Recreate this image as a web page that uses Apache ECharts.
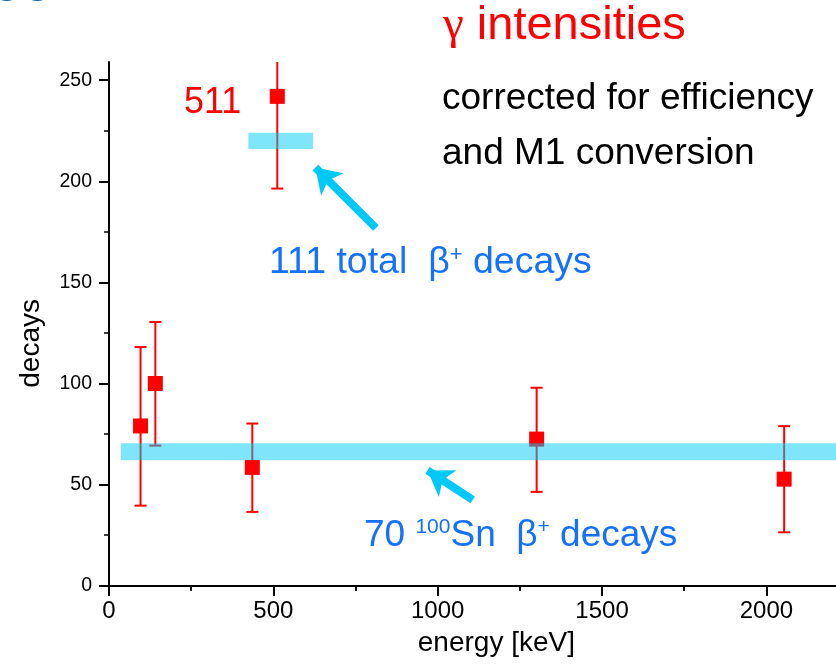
<!DOCTYPE html>
<html>
<head>
<meta charset="utf-8">
<script src="https://cdn.jsdelivr.net/npm/echarts@6/dist/echarts.min.js"></script>
<style>html,body{margin:0;padding:0;background:#fff;}#c{width:836px;height:665px;}</style>
</head>
<body>
<div id="c"></div>
<script>
// ---- data ----
const energy  = [96, 141, 436, 512, 1301, 2054];
const decays  = [79, 100, 58.5, 242, 72.5, 52.7];
const errLow  = [39.6, 69.3, 36.5, 196.4, 46.4, 26.4];
const errHigh = [118, 130.4, 80.2, 287.6, 97.9, 78.9];

const xTicks = [0, 500, 1000, 1500, 2000];
const yTicks = [0, 50, 100, 150, 200, 250];
const yMinorTicks = [25, 75, 125, 175, 225];

// bands (x range, y range)
const bandSnX = [36, 2500];
const bandSnY = [62.1, 70.5];
const bandTotalX = [424, 621];
const bandTotalY = [216, 224];

// arrows: [from, to]
const arrowTotal = [[812, 176.9], [628, 206.8]];
const arrowSn = [[1106.5, 42.4], [969, 57]];

const FONT = '"Liberation Sans", Arial, sans-serif';
const RED = '#ff0000';
const BLUE = '#1470ff';
const CYAN = '#00c8f8';

const chart = echarts.init(document.getElementById('c'), null, {renderer: 'canvas'});

const points = energy.map((e, i) => [e, decays[i]]);
const errs = energy.map((e, i) => [e, errLow[i], errHigh[i]]);
const bands = [
  [bandSnX[0], bandSnX[1], bandSnY[0], bandSnY[1]],
  [bandTotalX[0], bandTotalX[1], bandTotalY[0], bandTotalY[1]]
];
const plain = v => String(v);

const option = {
  animation: false,
  backgroundColor: '#fff',
  grid: {left: 109, top: 62, right: -94.75, bottom: 79.3, containLabel: false, outerBoundsMode: 'none'},
  xAxis: [{
    type: 'value', position: 'bottom', min: 0, max: 2500, interval: 500,
    axisLine: {show: true, lineStyle: {color: '#000', width: 2}},
    axisTick: {show: true, length: 10, lineStyle: {color: '#000', width: 2}},
    minorTick: {show: true, splitNumber: 2, length: 5, lineStyle: {color: '#000', width: 1.5}},
    splitLine: {show: false},
    axisLabel: {fontSize: 24, color: '#000', fontFamily: FONT, margin: 14, formatter: plain},
    name: 'energy [keV]', nameLocation: 'middle', nameGap: 44,
    nameTextStyle: {fontSize: 28, color: '#000', fontFamily: FONT, padding: [0, 47, 0, 0]}
  }, {
    type: 'value', position: 'top', min: 0, max: 2500, interval: 500,
    axisLine: {show: true, lineStyle: {color: '#000', width: 2}},
    axisTick: {show: true, inside: true, length: 10, lineStyle: {color: '#000', width: 2}},
    minorTick: {show: true, splitNumber: 2, length: 5, lineStyle: {color: '#000', width: 1.5}},
    splitLine: {show: false},
    axisLabel: {show: false}
  }],
  yAxis: [{
    type: 'value', position: 'left', min: 0, max: 259, interval: 50,
    axisLine: {show: true, lineStyle: {color: '#000', width: 2}},
    axisTick: {show: true, length: 10, customValues: yTicks, lineStyle: {color: '#000', width: 2}},
    splitLine: {show: false},
    axisLabel: {fontSize: 19.5, color: '#000', fontFamily: FONT, margin: 17, customValues: yTicks, formatter: plain},
    name: 'decays', nameLocation: 'middle', nameGap: 64,
    nameTextStyle: {fontSize: 28, color: '#000', fontFamily: FONT, padding: [0, 39, 0, 0]}
  }, {
    type: 'value', position: 'left', min: 0, max: 259,
    axisLine: {show: false},
    axisTick: {show: true, length: 5, customValues: yMinorTicks, lineStyle: {color: '#000', width: 1.5}},
    splitLine: {show: false},
    axisLabel: {show: false}
  }],
  series: [{
    type: 'custom', name: 'errors', xAxisIndex: 0, yAxisIndex: 0, z: 2,
    data: errs,
    renderItem: function (params, api) {
      const cs = params.coordSys;
      const pLo = api.coord([api.value(0), api.value(1)]);
      const pHi = api.coord([api.value(0), api.value(2)]);
      const x = pLo[0];
      const top = Math.max(pHi[1], cs.y);
      const bot = Math.min(pLo[1], cs.y + cs.height);
      const st = {stroke: RED, lineWidth: 2};
      const ch = [{type: 'line', shape: {x1: x, y1: bot, x2: x, y2: top}, style: st}];
      const hw = 6;
      if (pHi[1] >= cs.y) ch.push({type: 'line', shape: {x1: x - hw, y1: pHi[1], x2: x + hw, y2: pHi[1]}, style: st});
      if (pLo[1] <= cs.y + cs.height) ch.push({type: 'line', shape: {x1: x - hw, y1: pLo[1], x2: x + hw, y2: pLo[1]}, style: st});
      return {type: 'group', children: ch};
    }
  }, {
    type: 'scatter', name: 'gamma', xAxisIndex: 0, yAxisIndex: 0, z: 3,
    symbol: 'rect', symbolSize: 15,
    itemStyle: {color: RED, opacity: 1},
    data: points
  }, {
    type: 'custom', name: 'bands', xAxisIndex: 0, yAxisIndex: 0, z: 4,
    data: bands,
    renderItem: function (params, api) {
      const p0 = api.coord([api.value(0), api.value(3)]);
      const p1 = api.coord([api.value(1), api.value(2)]);
      return {type: 'rect', shape: {x: p0[0], y: p0[1], width: p1[0] - p0[0], height: p1[1] - p0[1]},
        style: {fill: 'rgba(0,204,248,0.5)'}};
    },
    markLine: {
      silent: true, symbol: ['none', 'arrow'], symbolSize: 24,
      label: {show: false},
      lineStyle: {color: CYAN, width: 8, type: 'solid', opacity: 1},
      emphasis: {disabled: true},
      data: [
        [{coord: arrowTotal[0]}, {coord: arrowTotal[1]}],
        [{coord: arrowSn[0]}, {coord: arrowSn[1]}]
      ]
    }
  }],
  graphic: [
    // cropped slide title fragments at top-left corner
    {type: 'text', x: -5, y: -10.3, z: 10, style: {text: 's', fill: '#0b5aa6', font: 'bold 42px ' + FONT, verticalAlign: 'middle'}},
    {type: 'text', x: 25.5, y: -10.3, z: 10, style: {text: 's', fill: '#0b5aa6', font: 'bold 42px ' + FONT, verticalAlign: 'middle'}},
    {type: 'text', x: 443, y: 26, z: 10, style: {
      text: '{g|γ} intensities', fill: RED, font: '47px ' + FONT, verticalAlign: 'middle',
      rich: {g: {fontFamily: '"Liberation Serif", serif', fontSize: 47, fill: RED}}
    }},
    {type: 'text', x: 184, y: 103.4, z: 10, style: {text: '511', fill: RED, font: '36px ' + FONT, verticalAlign: 'middle'}},
    {type: 'text', x: 442, y: 98.7, z: 10, style: {text: 'corrected for efficiency', fill: '#000', font: '37px ' + FONT, verticalAlign: 'middle'}},
    {type: 'text', x: 442, y: 153.7, z: 10, style: {text: 'and M1 conversion', fill: '#000', font: '37px ' + FONT, verticalAlign: 'middle'}},
    {type: 'text', x: 269, y: 263, z: 10, style: {
      text: '111 total  β{s|+} decays', fill: BLUE, font: '37.5px ' + FONT, verticalAlign: 'middle',
      rich: {s: {fontSize: 22, verticalAlign: 'top', fill: BLUE, fontFamily: FONT}}
    }},
    {type: 'text', x: 364, y: 535.3, z: 10, style: {
      text: '70 {s|100}Sn  β{s|+} decays', fill: BLUE, font: '37px ' + FONT, verticalAlign: 'middle',
      rich: {s: {fontSize: 21, verticalAlign: 'top', fill: BLUE, fontFamily: FONT}}
    }}
  ]
};
chart.setOption(option);
</script>
</body>
</html>
